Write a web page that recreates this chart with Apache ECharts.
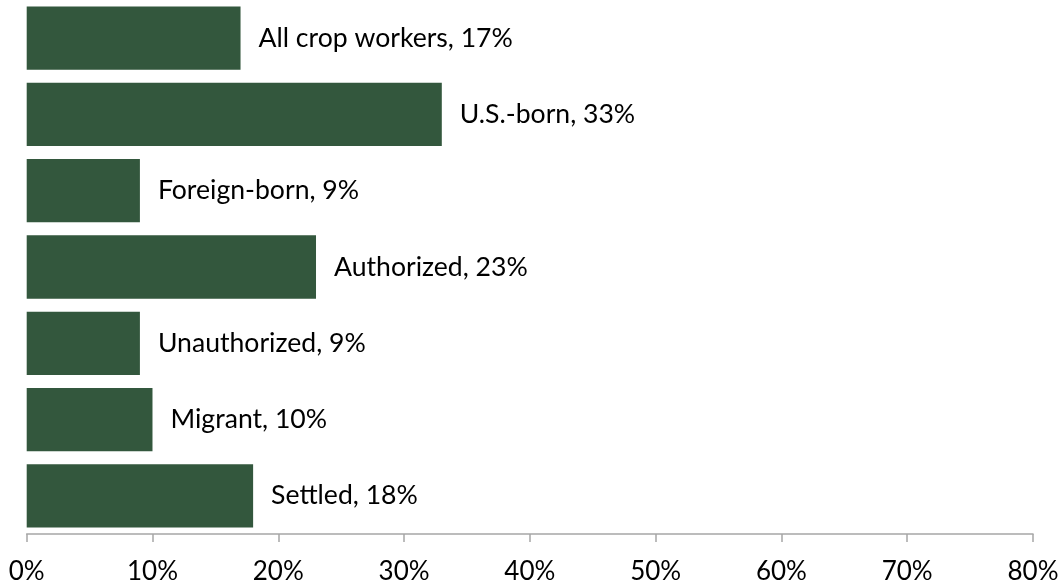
<!DOCTYPE html>
<html><head><meta charset="utf-8">
<script src="https://cdn.jsdelivr.net/npm/echarts@6/dist/echarts.min.js"></script>
<style>html,body{margin:0;padding:0;background:#fff}#c{width:1064px;height:586px}</style>
</head><body><div id="c"></div>
<script>
const categories = ['All crop workers','U.S.-born','Foreign-born','Authorized','Unauthorized','Migrant','Settled'];
const values = [17,33,9,23,9,10,18];
const xTicks = {min:0,max:80,interval:10};
const chart = echarts.init(document.getElementById('c'));
chart.setOption({
  animation:false,
  grid:{left:26.7,right:31,top:0,bottom:52},
  xAxis:{type:'value',min:xTicks.min,max:xTicks.max,interval:xTicks.interval,
    axisLine:{show:true,lineStyle:{color:'#a6a6a6',width:1.5}},
    axisTick:{show:true,length:8,lineStyle:{color:'#a6a6a6',width:1.5}},
    splitLine:{show:false},
    axisLabel:{formatter:'{value}%',color:'#000',fontFamily:'Lato',fontSize:26,margin:25}},
  yAxis:{type:'category',data:categories,inverse:true,
    axisLine:{show:false},axisTick:{show:false},axisLabel:{show:false}},
  series:[{type:'bar',data:values,barCategoryGap:'17%',
    itemStyle:{color:'#33573d'},
    label:{show:true,position:'right',distance:18,color:'#000',fontFamily:'Lato',fontSize:26.6,
      formatter:p=>p.name+', '+p.value+'%'}}]
});
</script></body></html>
